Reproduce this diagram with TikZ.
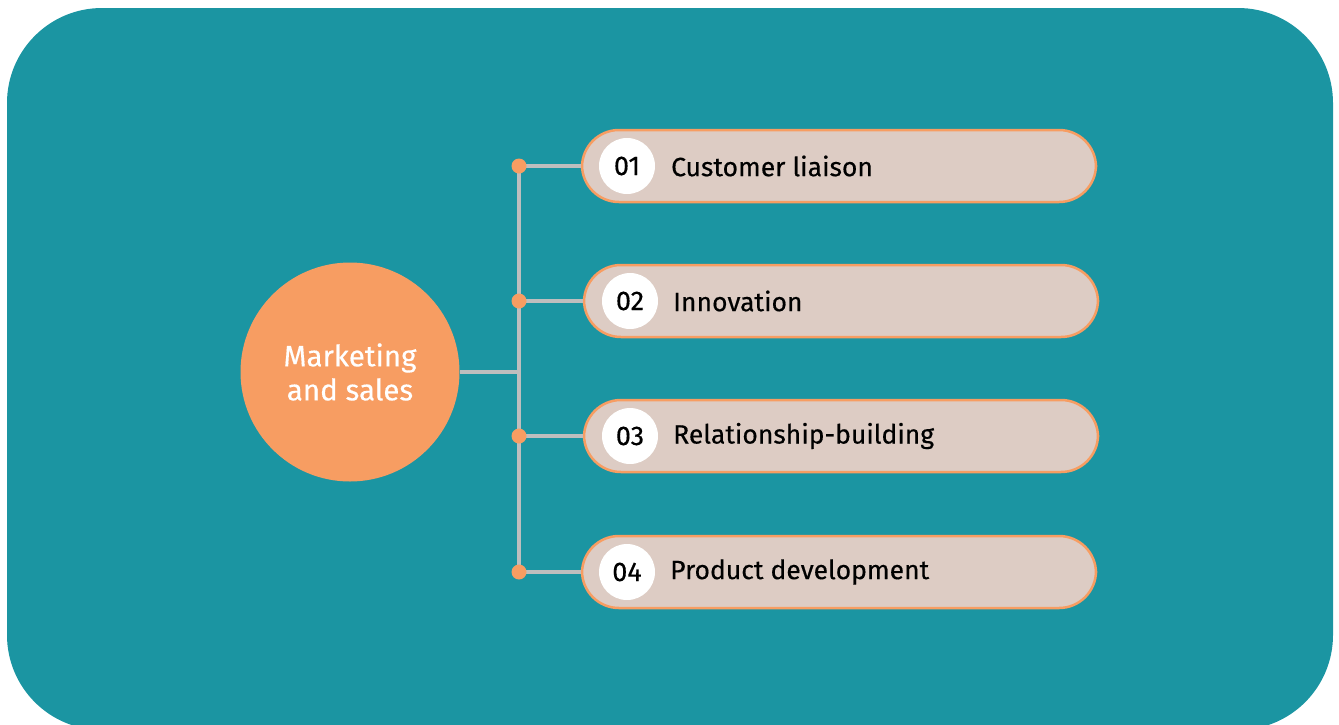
\documentclass[tikz,border=0pt]{standalone}
\usepackage{fontspec}
\setmainfont{Fira Sans}[FakeBold=0.35]
\definecolor{teal}{RGB}{27,149,162}
\definecolor{orng}{RGB}{247,157,98}
\definecolor{pillfill}{RGB}{221,204,196}
\definecolor{linegray}{RGB}{190,190,190}
\begin{document}
\begin{tikzpicture}[x=1pt,y=-1pt,
  pill/.style={draw=orng,line width=2.5pt,fill=pillfill,rounded corners=37pt,minimum width=514pt,minimum height=72pt,inner sep=0pt},
  numcirc/.style={circle,fill=white,minimum size=56pt,inner sep=0pt,font=\fontsize{27}{31}\selectfont,text=black},
  lbl/.style={anchor=west,inner sep=0pt,font=\fontsize{26.5}{30}\selectfont,text=black},
  conn/.style={draw=linegray,line width=3.5pt},
  dot/.style={circle,fill=orng,minimum size=15pt,inner sep=0pt}]
\useasboundingbox (0,0) rectangle (1339,724);
\begin{scope}
\clip (0,0) rectangle (1339,724);
\fill[teal,rounded corners=95pt] (7,8) rectangle (1333,730);
\end{scope}
% center
\node[circle,fill=orng,minimum size=219pt,inner sep=0pt,text=white,align=center,font=\fontsize{29.5}{34}\selectfont] (c) at (350,372) {Marketing\\and sales};
\coordinate (j) at (519,372);
% pills
\node[pill] (p1) at (839,166) {};
\node[pill] (p2) at (841,301) {};
\node[pill] (p3) at (841,436) {};
\node[pill] (p4) at (839,572) {};
% dots
\coordinate (d1) at (519,166);
\coordinate (d2) at (519,301);
\coordinate (d3) at (519,436);
\coordinate (d4) at (519,572);
% connectors
\draw[conn] (c.east) -- (j);
\draw[conn] (d1) -- (d4);
\draw[conn] (d1) -- (p1.west);
\draw[conn] (d2) -- (p2.west);
\draw[conn] (d3) -- (p3.west);
\draw[conn] (d4) -- (p4.west);
\node[dot] (m1) at (d1) {};
\node[dot] (m2) at (d2) {};
\node[dot] (m3) at (d3) {};
\node[dot] (m4) at (d4) {};
% numbers
\node[numcirc] (n1) at (627,166) {01};
\node[numcirc] (n2) at (630,301) {02};
\node[numcirc] (n3) at (630,436) {03};
\node[numcirc] (n4) at (627,572) {04};
% labels
\node[lbl] (l1) at (671,166) {Customer liaison};
\node[lbl] (l2) at (673,301) {Innovation};
\node[lbl] (l3) at (673,436) {Relationship-building};
\node[lbl] (l4) at (670,572) {Product development};
\end{tikzpicture}
\end{document}
